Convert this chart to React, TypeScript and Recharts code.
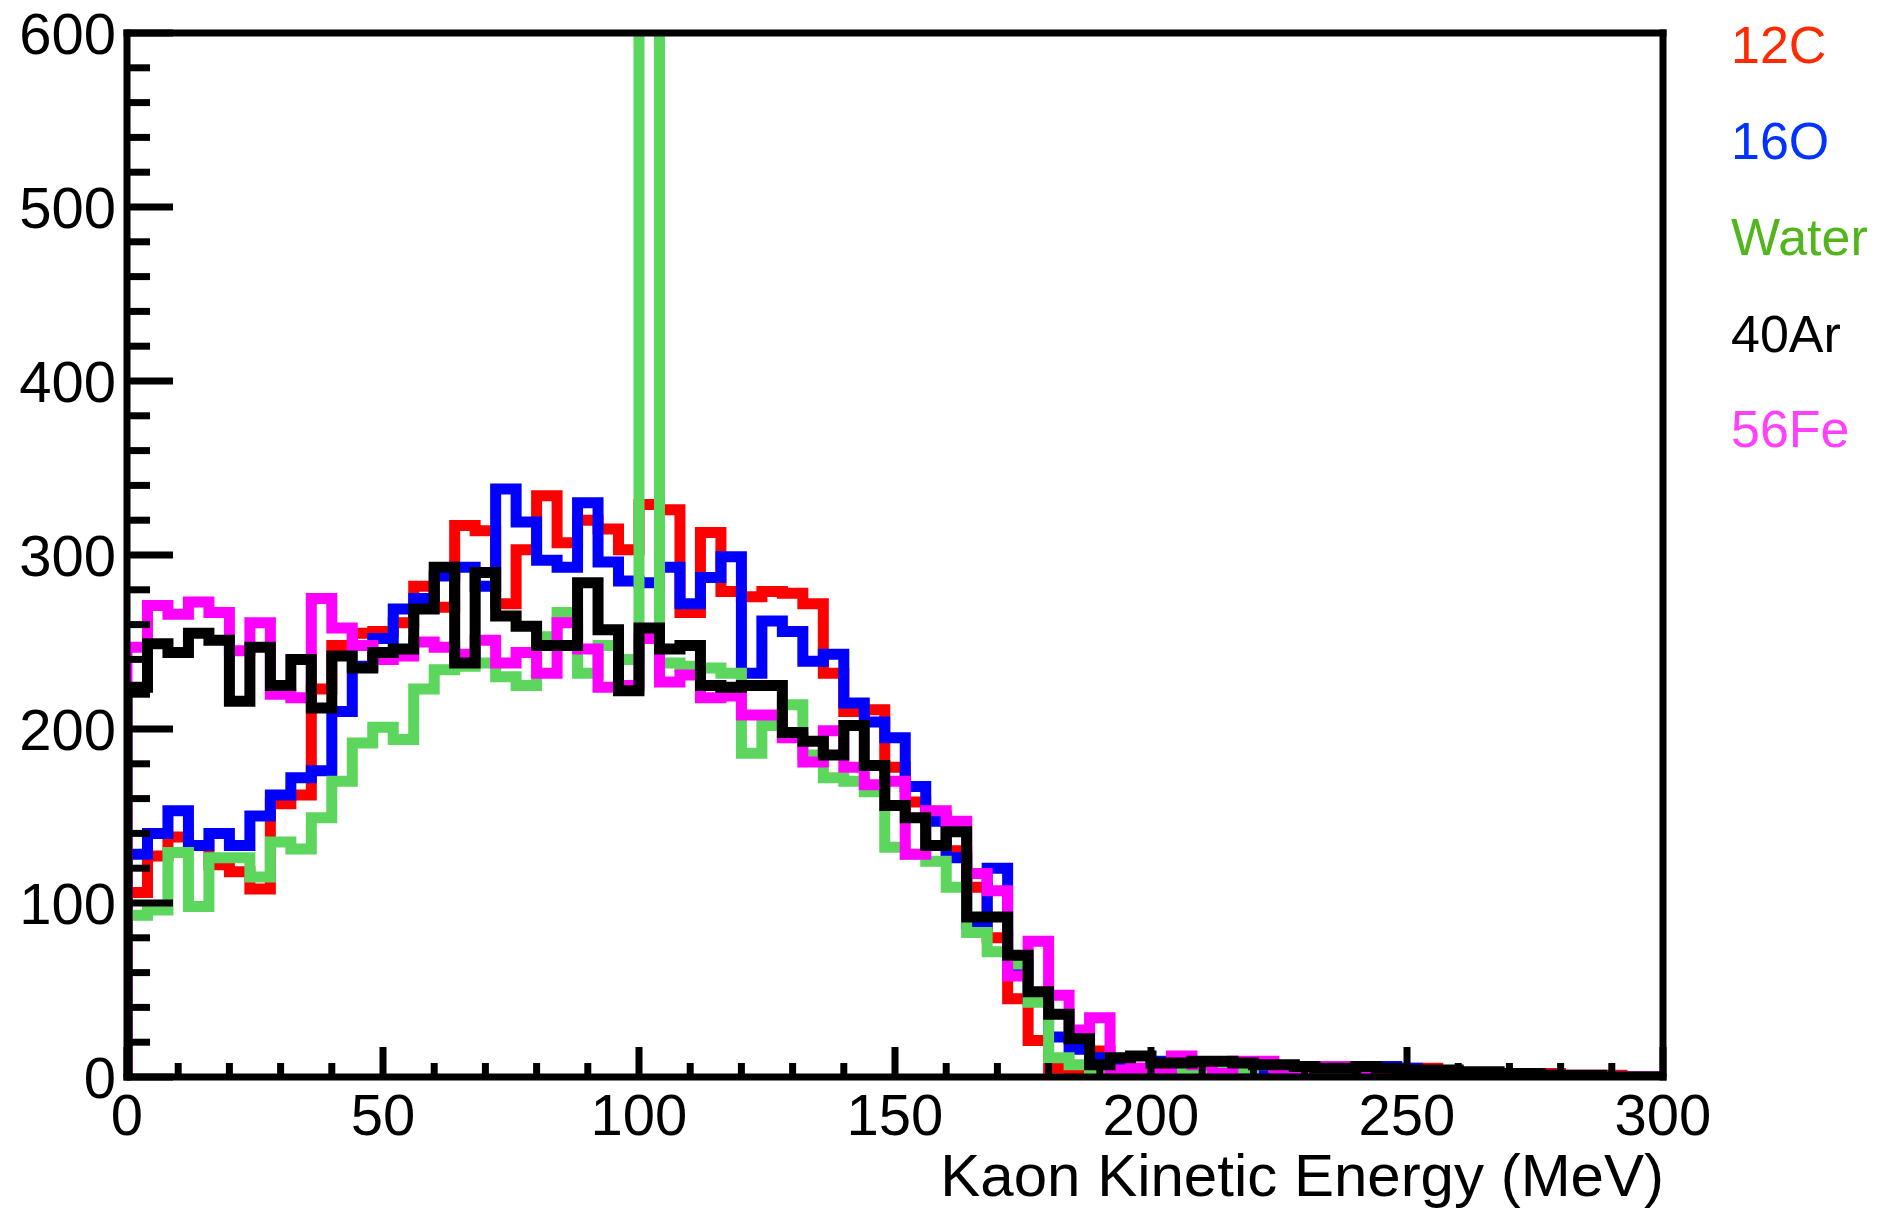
import React from 'react';
import { LineChart, Line, XAxis, YAxis, ReferenceLine } from 'recharts';

// Histogram: 75 bins of 4 MeV from 0 to 300 MeV
const BIN_WIDTH = 4;
const N_BINS = 75;

const c12 = [
  106, 127, 138, 133, 122, 118, 108, 157, 162, 223,
  248, 255, 256, 261, 282, 270, 317, 314, 272, 303,
  334, 307, 320, 315, 303, 329, 326, 267, 313, 279,
  276, 279, 278, 272, 232, 210, 211, 178, 158, 150,
  130, 109, 80, 45, 21, 5, 4, 15, 8, 5,
  3, 3, 4, 5, 4, 4, 3, 3, 3, 2,
  3, 2, 5, 5, 3, 2, 1, 1, 2, 2,
  1, 1, 1, 0, 0,
];

const o16 = [
  128, 140, 153, 133, 140, 133, 150, 162, 172, 176,
  210, 236, 252, 269, 275, 288, 293, 282, 338, 319,
  297, 293, 330, 296, 285, 284, 293, 272, 287, 299,
  232, 262, 256, 239, 243, 215, 204, 195, 167, 147,
  126, 88, 120, 64, 45, 23, 16, 11, 6, 4,
  9, 7, 6, 5, 5, 4, 3, 3, 2, 3,
  2, 6, 5, 3, 2, 2, 1, 1, 1, 1,
  0, 0, 0, 0, 0,
];

const water = [
  93, 96, 129, 98, 126, 126, 115, 135, 131, 149,
  170, 192, 201, 194, 223, 234, 236, 238, 230, 225,
  253, 267, 232, 248, 240, 1000, 238, 236, 235, 232,
  186, 202, 214, 185, 172, 170, 164, 132, 128, 124,
  109, 83, 72, 65, 43, 11, 7, 3, 2, 3,
  2, 2, 5, 6, 5, 7, 6, 5, 3, 3,
  2, 2, 1, 1, 1, 1, 0, 0, 0, 0,
  0, 0, 0, 0, 0,
];

const ar40 = [
  224, 249, 244, 255, 251, 216, 247, 225, 240, 212,
  242, 235, 244, 246, 269, 293, 238, 290, 265, 259,
  248, 248, 284, 257, 222, 258, 246, 248, 225, 224,
  225, 225, 198, 193, 185, 202, 179, 156, 149, 133,
  141, 92, 92, 70, 49, 36, 22, 7, 11, 12,
  8, 8, 9, 9, 8, 7, 7, 6, 5, 5,
  6, 5, 4, 4, 4, 3, 3, 2, 2, 1,
  1, 1, 0, 0, 0,
];

const fe56 = [
  247, 271, 266, 273, 267, 245, 261, 220, 218, 275,
  258, 248, 240, 242, 250, 247, 243, 251, 238, 244,
  232, 261, 246, 224, 225, 252, 227, 231, 218, 219,
  208, 208, 195, 181, 199, 178, 168, 170, 128, 153,
  147, 117, 107, 58, 78, 47, 27, 34, 4, 5,
  3, 12, 7, 2, 9, 9, 5, 5, 6, 6,
  4, 3, 3, 3, 2, 2, 2, 1, 1, 1,
  0, 0, 0, 0, 0,
];

const xTicks = Array.from({ length: 31 }, (_, i) => i * 10);
const yTicks = Array.from({ length: 31 }, (_, i) => i * 20);

const series = [
  { key: 'c12', name: '12C', values: c12, color: '#ff0000', legendColor: '#ff2a00' },
  { key: 'o16', name: '16O', values: o16, color: '#0000ff', legendColor: '#0033ff' },
  { key: 'water', name: 'Water', values: water, color: '#5cd65c', legendColor: '#52b51c' },
  { key: 'fe56', name: '56Fe', values: fe56, color: '#ff00ff', legendColor: '#ff40ff' },
  { key: 'ar40', name: '40Ar', values: ar40, color: '#000000', legendColor: '#000000' },
];
const legendOrder = ['c12', 'o16', 'water', 'ar40', 'fe56'];

// Build step-histogram rows: start at baseline, one row per bin low edge, close at the upper edge
const rows: any[] = [];
{
  const first: any = { e: 0 };
  series.forEach((s) => (first[s.key] = 0));
  rows.push(first);
  for (let i = 0; i < N_BINS; i++) {
    const r: any = { e: i * BIN_WIDTH };
    series.forEach((s) => (r[s.key] = s.values[i]));
    rows.push(r);
  }
  const last: any = { e: N_BINS * BIN_WIDTH };
  series.forEach((s) => (last[s.key] = s.values[N_BINS - 1]));
  rows.push(last);
}

const FONT = '"Liberation Sans", Arial, Helvetica, sans-serif';

const YTick = (props: any) => {
  const { x, y, payload } = props;
  const v = payload.value;
  const major = v % 100 === 0;
  return (
    <g>
      <line x1={x} x2={x + (major ? 46 : 23)} y1={y} y2={y} stroke="#000" strokeWidth={7} />
      {major && (
        <text x={x - 11} y={y + 21} textAnchor="end" fontSize={58} fontFamily={FONT} fill="#000">
          {v}
        </text>
      )}
    </g>
  );
};

const XTick = (props: any) => {
  const { x, y, payload } = props;
  const v = payload.value;
  const major = v % 50 === 0;
  return (
    <g>
      <line x1={x} x2={x} y1={y} y2={y - (major ? 30 : 14)} stroke="#000" strokeWidth={7} />
      {major && (
        <text x={x} y={y + 58} textAnchor="middle" fontSize={58} fontFamily={FONT} fill="#000">
          {v}
        </text>
      )}
    </g>
  );
};

const legendBaselines = [63, 159, 255, 352, 447];

export default function App() {
  return (
    <div style={{ position: 'absolute', left: 0, top: 0, width: 1880, height: 1211, background: '#fff' }}>
      <LineChart
        width={1880}
        height={1211}
        data={rows}
        margin={{ top: 33, right: 217, bottom: 74, left: 27 }}
      >
        <XAxis
          dataKey="e"
          type="number"
          domain={[0, 300]}
          ticks={xTicks}
          interval={0}
          tickSize={0}
          tickMargin={0}
          height={60}
          allowDataOverflow
          axisLine={{ stroke: '#000', strokeWidth: 7, strokeLinecap: 'square' }}
          tick={(p: any) => <XTick {...p} />}
        />
        <YAxis
          type="number"
          domain={[0, 600]}
          ticks={yTicks}
          interval={0}
          tickSize={0}
          tickMargin={0}
          width={100}
          allowDataOverflow
          axisLine={{ stroke: '#000', strokeWidth: 7, strokeLinecap: 'square' }}
          tick={(p: any) => <YTick {...p} />}
        />
        {series.map((s) => (
          <Line
            key={s.key}
            dataKey={s.key}
            name={s.name}
            type="stepAfter"
            stroke={s.color}
            strokeWidth={11}
            strokeLinejoin="miter"
            dot={false}
            activeDot={false}
            isAnimationActive={false}
          />
        ))}
        <ReferenceLine y={600} stroke="#000" strokeWidth={7} strokeLinecap="square" />
        <ReferenceLine x={300} stroke="#000" strokeWidth={7} strokeLinecap="square" />
      </LineChart>
      <svg
        width={1880}
        height={1211}
        style={{ position: 'absolute', left: 0, top: 0, pointerEvents: 'none' }}
      >
        <text x={1664} y={1196} textAnchor="end" fontSize={60} fontFamily={FONT} fill="#000">
          Kaon Kinetic Energy (MeV)
        </text>
        {legendOrder.map((k, i) => {
          const s = series.find((t) => t.key === k)!;
          return (
            <text key={k} x={1731} y={legendBaselines[i]} fontSize={52} fontFamily={FONT} fill={s.legendColor}>
              {s.name}
            </text>
          );
        })}
      </svg>
    </div>
  );
}
